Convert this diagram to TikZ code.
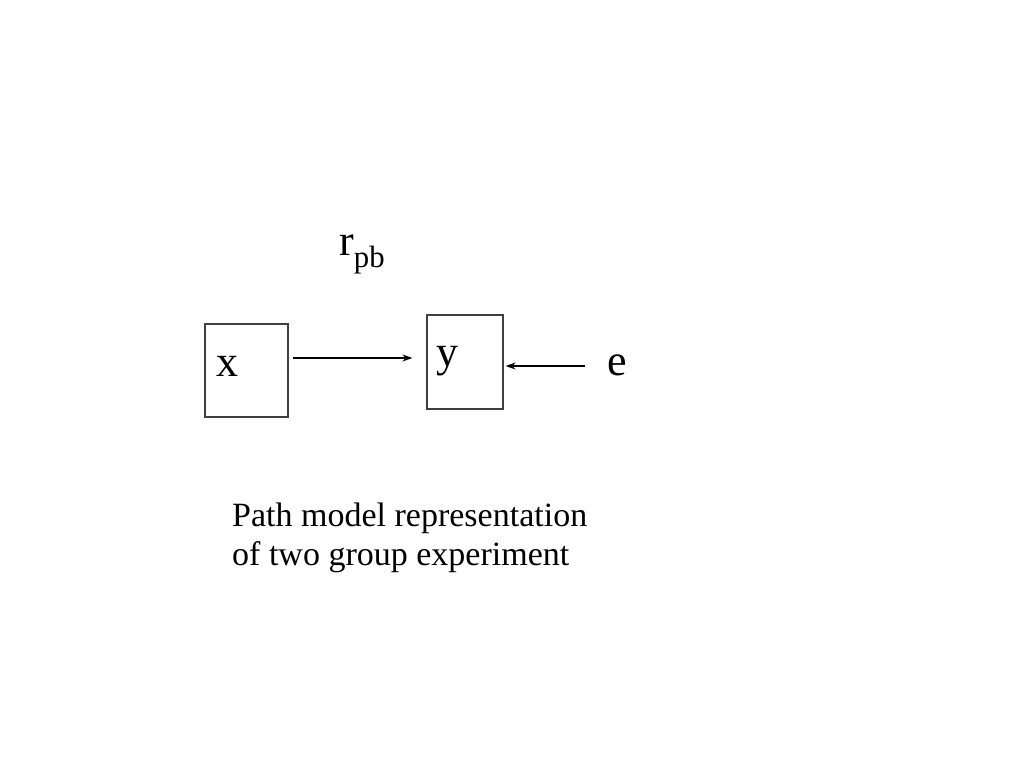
\documentclass[tikz,border=0pt]{standalone}
\usepackage{fontspec}
\setmainfont{Liberation Serif}
\usetikzlibrary{arrows.meta}
\tikzset{
  var/.style={draw=black!75, line width=1.2pt, minimum width=#1, inner sep=0pt},
  path arrow/.style={-{Stealth[length=10pt,width=7pt]}, line width=1.3pt},
  big/.style={font=\fontsize{44}{50}\selectfont, inner sep=0pt, anchor=base west}
}
\begin{document}
\begin{tikzpicture}[x=1pt,y=-1pt]
\useasboundingbox (0,0) rectangle (1024,768);
%Variables
  \node[var=83pt, minimum height=93pt] (xbox) at (246.5,370.5) {};
  \node[var=76pt, minimum height=94pt] (ybox) at (465,362) {};
  \node[big] (xlab) at (216,376) {x};
  \node[big] (ylab) at (436,366) {y};
  \node[big] (e) at (607,375) {e};
  %coefficient
  \node[big] (r) at (339,255) {r$_{\mathrm{pb}}$};
%Paths
  \draw[path arrow, shorten <=4pt, shorten >=14pt] (xbox.east |- 0,358) -- (ybox.west |- 0,358);
  \draw[path arrow, shorten <=22pt, shorten >=2pt] (e.west |- 0,366) -- (ybox.east |- 0,366);
%Caption
  \node[anchor=north west, align=left, inner sep=0pt, font=\fontsize{34}{39}\selectfont] (caption) at (232,503) {Path model representation\\ of two group experiment};
\end{tikzpicture}
\end{document}
